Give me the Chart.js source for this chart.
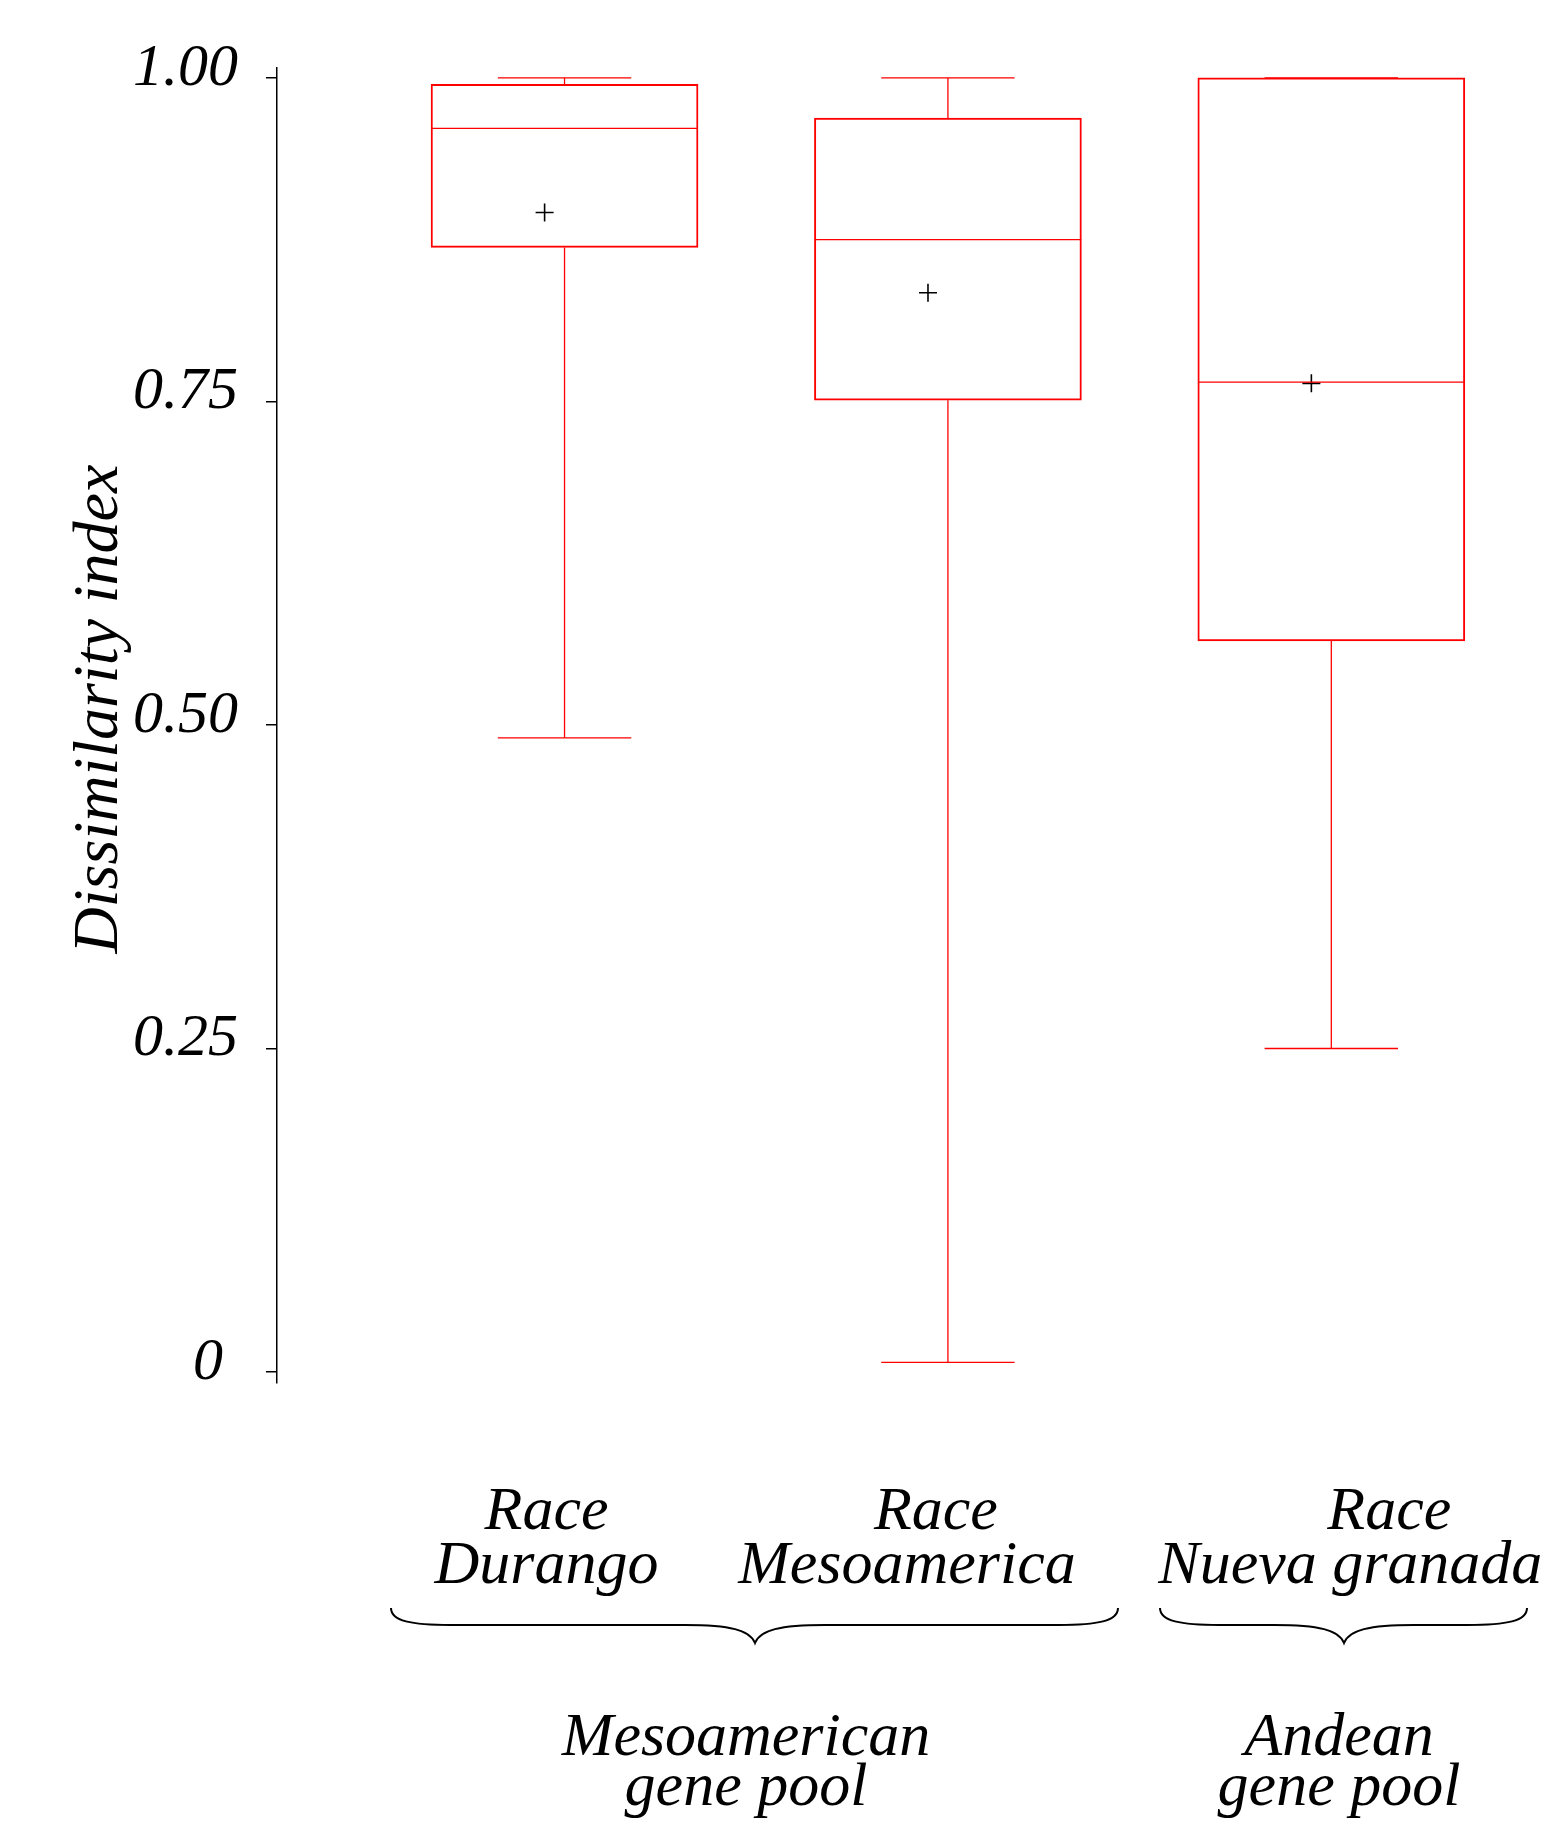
<!DOCTYPE html>
<html>
<head>
<meta charset="utf-8">
<script src="https://cdn.jsdelivr.net/npm/chart.js@4.4.1/dist/chart.umd.min.js"></script>
<style>
  html, body { margin: 0; padding: 0; background: #fff; }
  #wrap { width: 1561px; height: 1832px; }
</style>
</head>
<body>
<div id="wrap"><canvas id="grafico" width="1561" height="1832"></canvas></div>
<script>
const categories = [['Race', 'Durango'], ['Race', 'Mesoamerica'], ['Race', 'Nueva granada']];
const poolNames = [['Mesoamerican', 'gene pool'], ['Andean', 'gene pool']];
const whiskerLow = [0.490, 0.0075, 0.250];
const q1 = [0.869, 0.751, 0.565];
const medians = [0.961, 0.875, 0.765];
const q3 = [0.995, 0.969, 1.000];
const whiskerHigh = [1.000, 1.000, 1.000];
const means = [0.896, 0.834, 0.764];
const yTicks = [0, 0.25, 0.5, 0.75, 1];
const yTickLabels = ['0 ', '0.25', '0.50', '0.75', '1.00'];

const ROJO = '#ff0000';
const SERIF = '"Liberation Serif", "Times New Roman", serif';
const boxHalf = 0.348, capHalf = 0.174;
const meanShift = -0.052; // en la figura la cruz de la media queda algo a la izquierda
const xs = categories.map((c, i) => i + 1);

// bigotes, topes y mediana de cada caja como una sola linea cortada
function segmentos(i) {
    const c = xs[i];
    const corte = () => ({x: c, y: null});
    return [
        {x: c, y: q1[i]}, {x: c, y: whiskerLow[i]}, corte(),
        {x: c - capHalf, y: whiskerLow[i]}, {x: c + capHalf, y: whiskerLow[i]}, corte(),
        {x: c, y: q3[i]}, {x: c, y: whiskerHigh[i]}, corte(),
        {x: c - capHalf, y: whiskerHigh[i]}, {x: c + capHalf, y: whiskerHigh[i]}, corte(),
        {x: c - boxHalf, y: medians[i]}, {x: c + boxHalf, y: medians[i]}
    ];
}

function llave(ctx, x0, x1, xp, yTop, yMid, yTip) {
    ctx.beginPath();
    ctx.moveTo(x0, yTop);
    ctx.bezierCurveTo(x0, yMid - 4, x0 + 20, yMid, x0 + 60, yMid);
    ctx.lineTo(xp - 70, yMid);
    ctx.bezierCurveTo(xp - 25, yMid, xp - 5, yMid + 5, xp, yTip);
    ctx.bezierCurveTo(xp + 5, yMid + 5, xp + 25, yMid, xp + 70, yMid);
    ctx.lineTo(x1 - 60, yMid);
    ctx.bezierCurveTo(x1 - 20, yMid, x1, yMid - 4, x1, yTop);
    ctx.stroke();
}

const anotaciones = {
    id: 'anotaciones',
    afterDraw(chart) {
        const ctx = chart.ctx;
        const x = chart.scales.x;
        ctx.save();
        ctx.fillStyle = '#000';
        ctx.strokeStyle = '#000';
        ctx.font = 'italic 62px ' + SERIF;
        ctx.textAlign = 'center';
        ctx.textBaseline = 'alphabetic';

        // nombres de las razas (el desfase de cada renglon sale de la figura)
        const desfase = [[-18, -18], [-12, -41], [58, 19]];
        categories.forEach((lineas, i) => {
            const cx = x.getPixelForValue(xs[i]);
            ctx.fillText(lineas[0], cx + desfase[i][0], 1529);
            ctx.fillText(lineas[1], cx + desfase[i][1], 1583);
        });

        ctx.lineWidth = 2;
        llave(ctx, 391, 1118, 755, 1608, 1625, 1643);
        llave(ctx, 1160, 1527, 1344, 1608, 1625, 1643);

        const centros = [746, 1339];
        poolNames.forEach((lineas, i) => {
            ctx.fillText(lineas[0], centros[i], 1755);
            ctx.fillText(lineas[1], centros[i], 1805);
        });
        ctx.restore();
    }
};

const ctx = document.getElementById('grafico').getContext('2d');
new Chart(ctx, {
    type: 'bar',
    data: {
        datasets: [
            {
                type: 'bar',
                data: xs.map((v, i) => ({x: v, y: [q1[i], q3[i]]})),
                backgroundColor: 'rgba(0,0,0,0)',
                borderColor: ROJO,
                borderWidth: 1.3,
                borderSkipped: false,
                barThickness: 267
            },
            ...xs.map((v, i) => ({
                type: 'line',
                data: segmentos(i),
                borderColor: ROJO,
                borderWidth: 1.3,
                pointRadius: 0,
                spanGaps: false,
                fill: false
            })),
            {
                type: 'line',
                data: xs.map((v, i) => ({x: v + meanShift, y: means[i]})),
                showLine: false,
                pointStyle: 'cross',
                pointRadius: 9,
                borderColor: '#000',
                borderWidth: 1.6
            }
        ]
    },
    options: {
        responsive: false,
        animation: false,
        devicePixelRatio: 1,
        events: [],
        layout: { padding: { left: 0, right: 38, top: 67.6, bottom: 449.6 } },
        plugins: { legend: { display: false }, tooltip: { enabled: false } },
        scales: {
            x: {
                type: 'linear',
                min: 0.25,
                max: 3.5,
                offset: false,
                display: false
            },
            y: {
                min: -0.008,
                max: 1.008,
                afterBuildTicks: s => { s.ticks = yTicks.map(v => ({value: v})); },
                afterFit: s => { s.width = 277; },
                ticks: {
                    callback: (v, i) => yTickLabels[i],
                    font: { family: SERIF, style: 'italic', size: 60 },
                    color: '#000',
                    padding: 28,
                    labelOffset: -9
                },
                grid: { drawOnChartArea: false, drawTicks: true, tickLength: 11, color: '#000', lineWidth: 1.5 },
                border: { display: true, color: '#000', width: 1.5 },
                title: {
                    display: true,
                    text: '  Dissimilarity index',
                    color: '#000',
                    font: { family: SERIF, style: 'italic', size: 64 },
                    padding: { top: 62, bottom: 0 }
                }
            }
        }
    },
    plugins: [anotaciones]
});
</script>
</body>
</html>
